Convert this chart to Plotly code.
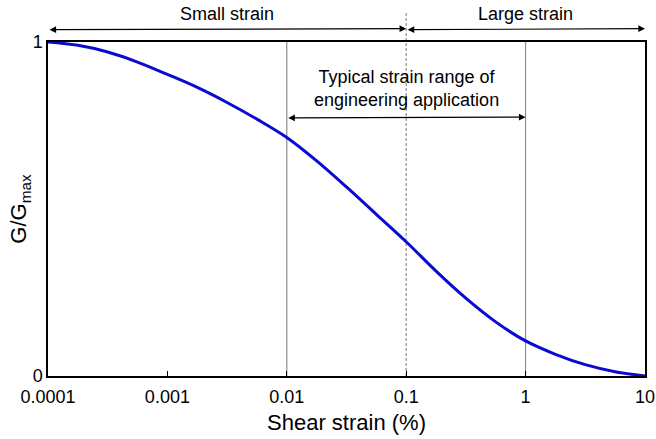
import plotly.graph_objects as go
import math

# ---- data ----
strain = [1e-4, 1.78e-4, 3.16e-4, 5.62e-4, 1e-3, 1.78e-3, 3.16e-3, 5.62e-3, 0.01,
          0.0178, 0.0316, 0.0562, 0.1, 0.178, 0.316, 0.562, 1.0, 1.78, 3.16, 5.62, 10.0]
g_ratio = [1.000, 0.990, 0.970, 0.940, 0.903, 0.864, 0.819, 0.769, 0.714,
           0.644, 0.566, 0.484, 0.402, 0.314, 0.233, 0.162, 0.105, 0.065, 0.034, 0.013, 0.000]

x_tickvals = [1e-4, 1e-3, 1e-2, 1e-1, 1, 10]
x_ticktext = ["0.0001", "0.001", "0.01", "0.1", "1", "10"]
y_tickvals = [0, 1]
y_ticktext = ["0", "1"]

solid_lines = [0.01, 1]
dashed_line = 0.1
small_range = [1e-4, 0.1]
large_range = [0.1, 10]
typical_range = [0.01, 1]

FONT = "Liberation Sans, Arial, sans-serif"
FS = 18

fig = go.Figure()
fig.add_trace(go.Scatter(x=strain, y=g_ratio, mode="lines", line_shape="spline",
                         line=dict(color="#0a0ad2", width=3), showlegend=False,
                         hoverinfo="skip"))

shapes = []
for v in solid_lines:
    shapes.append(dict(type="line", xref="x", yref="paper", x0=v, x1=v, y0=0, y1=1,
                       line=dict(color="#8c8c8c", width=1.2), layer="below"))
shapes.append(dict(type="line", xref="x", yref="paper", x0=dashed_line, x1=dashed_line,
                   y0=0, y1=1.088, line=dict(color="#8c8c8c", width=1.2, dash="3px,2px"),
                   layer="below"))
fig.update_layout(shapes=shapes)

def lg(v):
    return math.log10(v)

ann = []
def arrow(r, y):
    ann.append(dict(xref="x", yref="paper", axref="x", ayref="y domain",
                    x=lg(r[1]), y=y, ax=lg(r[0]), ay=y, text="", showarrow=True,
                    arrowhead=2, startarrowhead=2, arrowside="end+start",
                    arrowsize=1.1, startarrowsize=1.1, arrowwidth=1.2,
                    arrowcolor="black", standoff=0, startstandoff=0))

arrow(small_range, 1.040)
arrow(large_range, 1.040)
arrow(typical_range, 0.775)

def label(text, xv, y):
    ann.append(dict(xref="x", yref="paper", x=xv, y=y, text=text, showarrow=False,
                    font=dict(family=FONT, size=FS, color="black"),
                    xanchor="center", yanchor="middle"))

label("Small strain", (lg(small_range[0]) + lg(small_range[1])) / 2, 1.083)
label("Large strain", (lg(large_range[0]) + lg(large_range[1])) / 2, 1.083)
label("Typical strain range of<br>engineering application",
      (lg(typical_range[0]) + lg(typical_range[1])) / 2, 0.861)
fig.update_layout(annotations=ann)

fig.update_layout(
    width=656, height=439,
    margin=dict(l=48, r=11, t=42, b=63),
    paper_bgcolor="white", plot_bgcolor="white",
    font=dict(family=FONT, size=FS, color="black"),
    xaxis=dict(type="log", range=[-4, 1.0005], tickvals=x_tickvals, ticktext=x_ticktext,
               automargin=False,
               showgrid=False, zeroline=False, showline=True, mirror=True,
               linecolor="black", linewidth=1.5, ticks="inside", ticklen=5,
               tickcolor="black", tickwidth=1.2, ticklabelstandoff=4,
               ticklabeloverflow="allow",
               title=dict(text="Shear strain (%)", standoff=8)),
    yaxis=dict(range=[0, 1], tickvals=y_tickvals, ticktext=y_ticktext,
               automargin=False,
               showgrid=False, zeroline=False, showline=True, mirror=True,
               linecolor="black", linewidth=1.5, ticks="",
               title=dict(text="G/G<sub>max</sub>", standoff=0)),
)

fig.write_html("out.html")
